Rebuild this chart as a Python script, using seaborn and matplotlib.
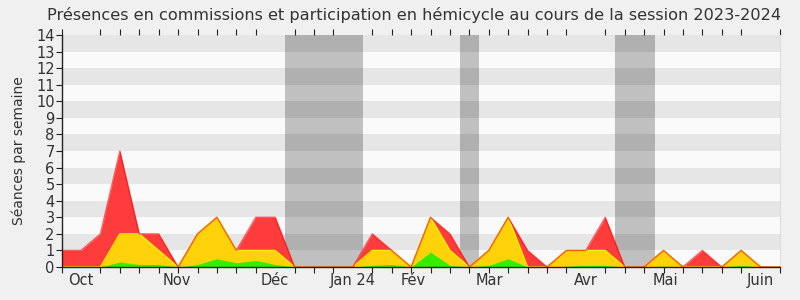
import numpy as np
import pandas as pd
import seaborn as sns
import matplotlib
matplotlib.use("Agg")
import matplotlib.pyplot as plt

# Weekly values (38 weeks, Sept 2023 -> June 2024)
weeks = list(range(38))
total = [1, 1, 2, 7, 2, 2, 0, 2, 3, 1, 3, 3, 0, 0, 0, 0,
         2, 1, 0, 3, 2, 0, 1, 3, 1, 0, 1, 1, 3, 0, 0, 1,
         0, 1, 0, 1, 0, 0]
hemicycle = [0, 0, 0, 2, 2, 1, 0, 2, 3, 1, 1, 1, 0, 0, 0, 0,
             1, 1, 0, 3, 1, 0, 1, 3, 0, 0, 1, 1, 1, 0, 0, 1,
             0, 0, 0, 1, 0, 0]
interventions = [0, 0, 0, 0.3, 0.15, 0.15, 0, 0.15, 0.5, 0.25, 0.4, 0.15, 0, 0, 0, 0,
                 0.1, 0.15, 0, 0.9, 0.1, 0, 0.1, 0.5, 0, 0, 0.05, 0.1, 0.1, 0, 0, 0.05,
                 0, 0, 0, 0.1, 0, 0]
month_labels = ["Oct", "Nov", "Déc", "Jan 24", "Fév", "Mar", "Avr", "Mai", "Juin"]
month_pos = [1, 5.95, 11, 15, 18.1, 22.05, 27, 31.1, 36]
vacations = [(11.5, 15.5), (20.5, 21.5), (28.5, 30.55)]

df = pd.DataFrame({"week": weeks, "total": total, "hemi": hemicycle, "inter": interventions})

sns.set_style("white")
plt.rcParams['font.family'] = ['DejaVu Sans']

fig = plt.figure(figsize=(8, 3), dpi=100, facecolor="#f0f0f0")
ax = fig.add_axes([0.077, 0.11, 0.898, 0.773])
ax.set_facecolor("#fafafa")

# stripes
for k in range(1, 14, 2):
    ax.axhspan(k, k + 1, color="#e6e6e6", lw=0, zorder=0)

# vacations
for a, b in vacations:
    ax.axvspan(a, b, color="#000000", alpha=0.23, lw=0, zorder=1)

ax.fill_between(df["week"], 0, df["total"], color="#ff3c3c", lw=0, zorder=2)
ax.fill_between(df["week"], 0, df["hemi"], color="#ffd20a", lw=0, zorder=3)
ax.fill_between(df["week"], 0, df["inter"], color="#33ee00", lw=0, zorder=4)

sns.lineplot(data=df, x="week", y="hemi", color="#f5f000", lw=1.0, ax=ax, zorder=5)
sns.lineplot(data=df, x="week", y="total", color="#ff0000", lw=1.0, alpha=0.6, ax=ax, zorder=6)

ax.set_xlim(0, 37)
ax.set_ylim(0, 14)
ax.set_yticks(range(0, 15))
ax.set_yticklabels([str(i) for i in range(15)], fontsize=10.5, color="#333333")
ax.set_xticks(weeks, minor=True)
ax.set_xticks(month_pos)
ax.set_xticklabels(month_labels, fontsize=10.5, color="#333333")
ax.tick_params(axis="x", which="major", length=0, pad=4)
ax.tick_params(axis="x", which="minor", length=4, width=0.8, color="#222222", top=True, bottom=True, direction="out")
ax.tick_params(axis="y", which="major", length=4, width=0.8, color="#222222", left=True, pad=1)
ax.set_xlabel("")
ax.set_ylabel("Séances par semaine", fontsize=10, color="#333333")
ax.yaxis.set_label_coords(-0.049, 0.5)
fig.suptitle("Présences en commissions et participation en hémicycle au cours de la session 2023-2024",
             fontsize=11.65, color="#333333", x=0.517, y=0.978, va="top")

for s in ["left", "bottom"]:
    ax.spines[s].set_color("#222222")
    ax.spines[s].set_linewidth(1)
    ax.spines[s].set_zorder(10)
ax.spines["top"].set_visible(False)
ax.spines["right"].set_color("#dddddd")
ax.grid(False)

fig.savefig("out.png", dpi=100, facecolor=fig.get_facecolor())
